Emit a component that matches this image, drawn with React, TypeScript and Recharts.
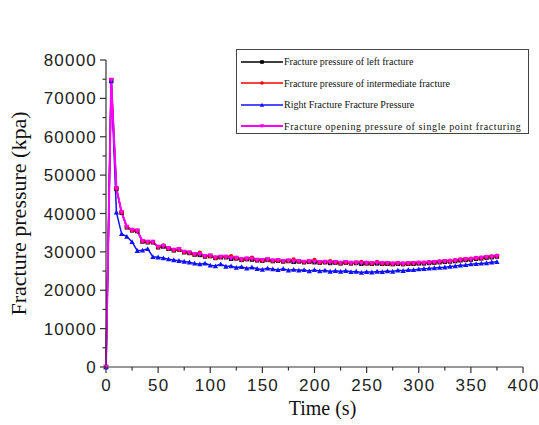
import { LineChart, Line, XAxis, YAxis, Legend } from "recharts";

// time (s)
const time = [
  0, 5, 10, 15, 20, 25, 30, 35, 40, 45,
  50, 55, 60, 65, 70, 75, 80, 85, 90, 95,
  100, 105, 110, 115, 120, 125, 130, 135, 140, 145,
  150, 155, 160, 165, 170, 175, 180, 185, 190, 195,
  200, 205, 210, 215, 220, 225, 230, 235, 240, 245,
  250, 255, 260, 265, 270, 275, 280, 285, 290, 295,
  300, 305, 310, 315, 320, 325, 330, 335, 340, 345,
  350, 355, 360, 365, 370, 375,
];

// Fracture pressure of left fracture (kpa) - sits under the red/magenta lines
const leftFracture = [
  0, 74700, 46400, 40200, 36400, 35600, 35400, 32700, 32500, 32500,
  31200, 31400, 30800, 30400, 30600, 29900, 29700, 29300, 29200, 28800,
  28900, 28400, 28600, 28600, 28200, 28300, 27900, 28100, 28000, 27800,
  27700, 27900, 27600, 27700, 27500, 27600, 27400, 27500, 27300, 27400,
  27300, 27200, 27300, 27100, 27200, 27000, 27200, 27000, 27100, 26900,
  27000, 26900, 27000, 26900, 26900, 26800, 26900, 26800, 26900, 26900,
  27000, 27000, 27100, 27200, 27300, 27400, 27500, 27600, 27800, 27900,
  28000, 28200, 28300, 28500, 28600, 28800,
];

// Fracture pressure of intermediate fracture (kpa)
const midFracture = [
  0, 74800, 46500, 40300, 36500, 35700, 35500, 32800, 32600, 32600,
  31300, 31700, 30900, 30500, 30700, 30000, 29800, 29400, 29800, 28900,
  29000, 28500, 28700, 28700, 28900, 28400, 28000, 28200, 28500, 27900,
  27800, 28000, 27700, 27800, 27600, 27700, 28000, 27600, 27400, 27500,
  27900, 27300, 27400, 27600, 27300, 27100, 27300, 27100, 27200, 27400,
  27100, 27000, 27400, 27000, 27100, 26900, 27100, 26900, 27000, 27100,
  27200, 27200, 27300, 27400, 27500, 27600, 27700, 27800, 28000, 28100,
  28200, 28400, 28500, 28700, 28800, 29000,
];

// Right Fracture Fracture Pressure (kpa)
const rightFracture = [
  0, 74500, 40300, 34700, 34000, 32600, 30300, 30400, 30800, 28700,
  28600, 28400, 28100, 27900, 27700, 27500, 27300, 27000, 26800, 27000,
  26500, 26300, 26800, 26200, 26300, 25900, 26100, 25700, 26000, 25600,
  25400, 25700, 25500, 25300, 25600, 25200, 25400, 25200, 25300, 25000,
  25300, 25000, 25200, 24900, 25100, 24900, 25100, 24800, 24900, 24600,
  24800, 24700, 24900, 24800, 25000, 24900, 25200, 25100, 25300, 25300,
  25500, 25600, 25700, 25800, 25900, 26000, 26200, 26300, 26500, 26600,
  26800, 26900, 27000, 27100, 27300, 27400,
];

// Fracture opening pressure of single point fracturing (kpa)
const singlePoint = [
  0, 74800, 46500, 40300, 36500, 35700, 35500, 32800, 32600, 32600,
  31300, 31500, 30900, 30500, 30700, 30000, 29800, 29400, 29300, 28900,
  29000, 28500, 28700, 28700, 28300, 28400, 28000, 28200, 28100, 27900,
  27800, 28000, 27700, 27800, 27600, 27700, 27500, 27600, 27400, 27500,
  27400, 27300, 27400, 27200, 27300, 27100, 27300, 27100, 27200, 27000,
  27100, 27000, 27100, 27000, 27000, 26900, 27000, 26900, 27000, 27000,
  27100, 27100, 27200, 27300, 27400, 27500, 27600, 27700, 27900, 28000,
  28100, 28300, 28400, 28600, 28700, 28900,
];

const yTicks = [
  0, 5000, 10000, 15000, 20000, 25000, 30000, 35000, 40000,
  45000, 50000, 55000, 60000, 65000, 70000, 75000, 80000,
];
const xTicks = [
  0, 25, 50, 75, 100, 125, 150, 175, 200, 225, 250, 275, 300, 325, 350, 375, 400,
];

const seriesInfo = [
  { key: "left", name: "Fracture pressure of left fracture", color: "#000000", shape: "square", width: 1.5, spacing: 0 },
  { key: "mid", name: "Fracture pressure of intermediate fracture", color: "#ff0000", shape: "circle", width: 1.5, spacing: 0 },
  { key: "right", name: "Right Fracture Fracture Pressure", color: "#1010ff", shape: "triangle", width: 1.5, spacing: 0 },
  { key: "single", name: "Fracture opening pressure of single point fracturing", color: "#ff00ff", shape: "down", width: 2, spacing: 0.6 },
];

const data = time.map((t, i) => ({
  t,
  left: leftFracture[i],
  mid: midFracture[i],
  right: rightFracture[i],
  single: singlePoint[i],
}));

const AXIS = "#333";
const SANS = "'Liberation Sans', Arial, sans-serif";
const SERIF = "'Liberation Serif', 'Times New Roman', serif";

function Symbol({ cx, cy, shape, color, s = 2.2 }: any) {
  if (shape === "circle") return <circle cx={cx} cy={cy} r={s} fill={color} />;
  if (shape === "triangle")
    return <path d={`M${cx},${cy - s * 1.2}L${cx + s * 1.2},${cy + s}L${cx - s * 1.2},${cy + s}Z`} fill={color} />;
  if (shape === "down")
    return <path d={`M${cx},${cy + s * 1.2}L${cx + s * 1.2},${cy - s}L${cx - s * 1.2},${cy - s}Z`} fill={color} />;
  return <rect x={cx - s} y={cy - s} width={s * 2} height={s * 2} fill={color} />;
}

const makeDot = (shape: string, color: string) => (props: any) => {
  const { cx, cy, index } = props;
  if (cx == null || cy == null) return <g key={index} />;
  return (
    <g key={index}>
      <Symbol cx={cx} cy={cy} shape={shape} color={color} />
    </g>
  );
};

function YTick({ x, y, payload }: any) {
  const major = payload.value % 10000 === 0;
  return (
    <g>
      <line x1={x - (major ? 6 : 3.5)} x2={x} y1={y} y2={y} stroke={AXIS} strokeWidth={1.2} />
      {major && (
        <text x={x - 9} y={y} dy="0.36em" textAnchor="end" fill="#222"
          style={{ fontFamily: SANS, fontSize: 17, letterSpacing: 1.2 }}>
          {payload.value}
        </text>
      )}
    </g>
  );
}

function XTick({ x, y, payload }: any) {
  const major = payload.value % 50 === 0;
  return (
    <g>
      <line x1={x} x2={x} y1={y} y2={y + (major ? 6 : 3.5)} stroke={AXIS} strokeWidth={1.2} />
      {major && (
        <text x={x + 0.6} y={y + 24} textAnchor="middle" fill="#222"
          style={{ fontFamily: SANS, fontSize: 17, letterSpacing: 1.2 }}>
          {payload.value}
        </text>
      )}
    </g>
  );
}

function YTitle({ viewBox }: any) {
  const cx = 18;
  const cy = viewBox.y + viewBox.height / 2;
  return (
    <text x={cx} y={cy} transform={`rotate(-90, ${cx}, ${cy})`} textAnchor="middle" dy="0.35em"
      fill="#111" style={{ fontFamily: SERIF, fontSize: 22 }}>
      Fracture pressure (kpa)
    </text>
  );
}

function XTitle({ viewBox }: any) {
  const cx = viewBox.x + viewBox.width / 2 + 8;
  return (
    <text x={cx} y={viewBox.y + 48} textAnchor="middle" fill="#111"
      style={{ fontFamily: SERIF, fontSize: 20 }}>
      Time (s)
    </text>
  );
}

function LegendBox() {
  return (
    <div
      style={{
        width: 293,
        height: 85,
        boxSizing: "border-box",
        border: "1px solid #444",
        background: "#fff",
        paddingTop: 1,
      }}
    >
      {seriesInfo.map((s) => (
        <div key={s.key} style={{ height: 21.5, display: "flex", alignItems: "center" }}>
          <svg width={44} height={10} style={{ marginLeft: 3 }}>
            <line x1={1} x2={43} y1={5} y2={5} stroke={s.color} strokeWidth={s.width} />
            <Symbol cx={22} cy={5} shape={s.shape} color={s.color} s={1.8} />
          </svg>
          <span style={{ fontFamily: SERIF, fontSize: 10, color: "#111", whiteSpace: "nowrap", letterSpacing: s.spacing }}>
            {s.name}
          </span>
        </div>
      ))}
    </div>
  );
}

export default function App() {
  return (
    <div style={{ position: "absolute", left: 0, top: 0, width: 539, height: 425, background: "#fff" }}>
      <LineChart width={539} height={425} data={data} margin={{ top: 60, right: 16, left: 0, bottom: 0 }}>
        <XAxis
          dataKey="t"
          type="number"
          domain={[0, 400]}
          ticks={xTicks}
          interval={0}
          tickSize={0}
          tickMargin={0}
          tickLine={false}
          tick={<XTick />}
          axisLine={{ stroke: AXIS, strokeWidth: 1.2 }}
          height={58}
          label={<XTitle />}
        />
        <YAxis
          type="number"
          domain={[0, 80000]}
          ticks={yTicks}
          interval={0}
          tickSize={0}
          tickMargin={0}
          tickLine={false}
          tick={<YTick />}
          axisLine={{ stroke: AXIS, strokeWidth: 1.2 }}
          width={106}
          label={<YTitle />}
        />
        <Legend
          layout="vertical"
          align="center"
          verticalAlign="middle"
          content={() => <LegendBox />}
          wrapperStyle={{ left: 236, top: 49, width: 293, height: 85 }}
        />
        {seriesInfo.map((s) => (
          <Line
            key={s.key}
            type="linear"
            dataKey={s.key}
            name={s.name}
            stroke={s.color}
            strokeWidth={s.width}
            dot={makeDot(s.shape, s.color)}
            activeDot={false}
            isAnimationActive={false}
          />
        ))}
      </LineChart>
    </div>
  );
}
